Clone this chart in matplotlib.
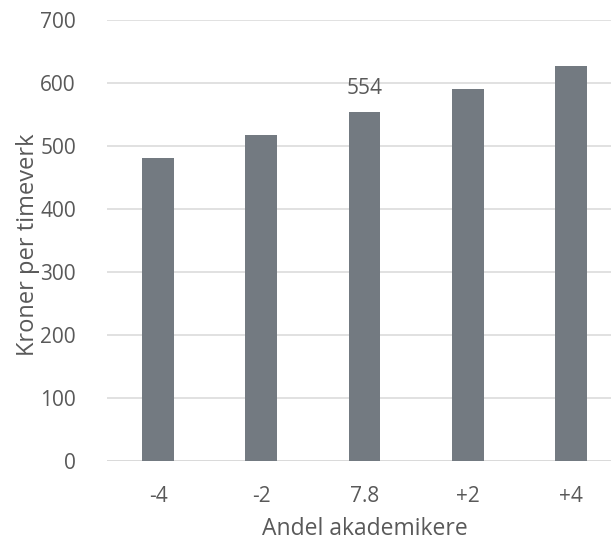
import matplotlib
matplotlib.use('Agg')
import matplotlib.pyplot as plt

# andel akademikere (prosentpoeng) og verdiskaping per timeverk
categories = ['-4', '-2', '7.8', '+2', '+4']
values = [481, 517, 554, 590, 627]
labelled = {2: '554'}

BAR_COLOR = '#737A81'
TEXT_COLOR = '#595959'
GRID_COLOR = '#D9D9D9'

plt.rcParams['font.family'] = ['Open Sans', 'DejaVu Sans']

W, H = 611, 541
fig = plt.figure(figsize=(W / 100, H / 100), dpi=100)

# the plot area runs a little past the right edge of the image
left_px, zero_px, top_px, slot_px = 106.5, 461, 20, 103.2
ax = fig.add_axes([left_px / W, (H - zero_px) / H,
                   (W - left_px) / W, (zero_px - top_px) / H])

x = list(range(len(categories)))
ax.bar(x, values, width=0.31, color=BAR_COLOR, zorder=3)

for i, txt in labelled.items():
    ax.text(i, values[i] + 28.5, txt, ha='center', va='baseline',
            fontsize=15, color=TEXT_COLOR)

ax.set_xlim(-0.5, -0.5 + (W - left_px) / slot_px)
ax.set_ylim(0, 700)
ax.set_yticks(range(0, 701, 100))
ax.set_xticks(x)
ax.set_xticklabels(categories)

ax.grid(axis='y', color=GRID_COLOR, linewidth=1.1, zorder=0)
for s in ax.spines.values():
    s.set_visible(False)
ax.axhline(0, color=GRID_COLOR, linewidth=1.1, zorder=1)

ax.tick_params(axis='both', length=0, labelsize=15, labelcolor=TEXT_COLOR)
ax.tick_params(axis='y', pad=22)
ax.tick_params(axis='x', pad=18)

fig.text((left_px + 2.5 * slot_px) / W, 1 - 535 / H, 'Andel akademikere',
         ha='center', va='baseline', fontsize=16.5, color=TEXT_COLOR)
fig.text(28 / W, 1 - 245 / H, 'Kroner per timeverk', rotation=90,
         ha='center', va='center', fontsize=17, color=TEXT_COLOR)

fig.savefig('out.png', dpi=100)
